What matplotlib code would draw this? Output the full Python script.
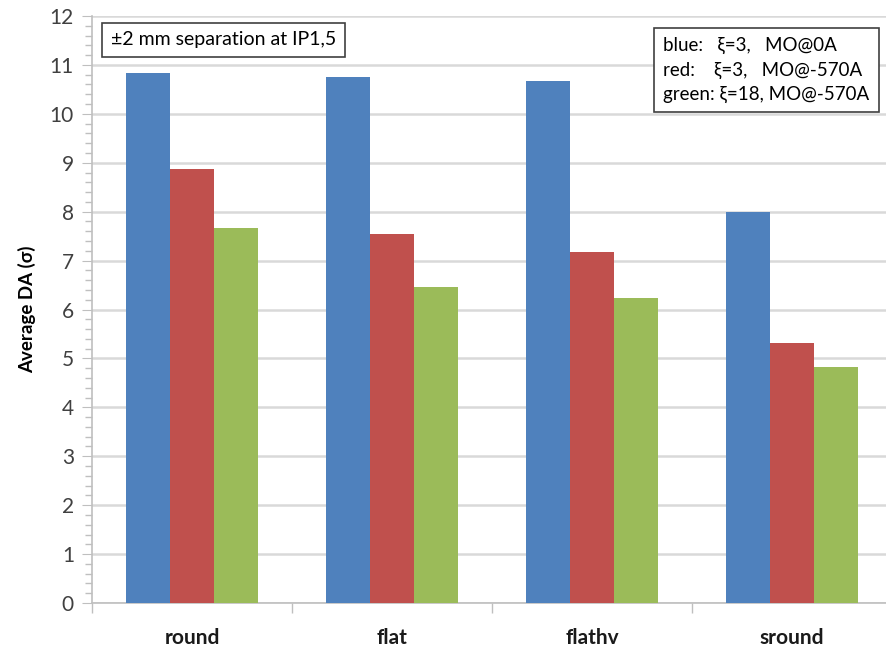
import numpy as np
import matplotlib
matplotlib.use("Agg")
from matplotlib import pyplot as plt
from matplotlib.ticker import MultipleLocator

plt.rcParams['font.family'] = ['Lato', 'DejaVu Sans']

categories = ["round", "flat", "flathv", "sround"]
blue_vals = [10.84, 10.75, 10.67, 8.00]
red_vals = [8.87, 7.54, 7.17, 5.31]
green_vals = [7.66, 6.46, 6.24, 4.83]
series_colors = ["#4F81BD", "#C0504D", "#9BBB59"]
legend_lines = ["blue:   \u03be=3,   MO@0A",
                "red:    \u03be=3,   MO@-570A",
                "green: \u03be=18, MO@-570A"]
note = "\u00b12 mm separation at IP1,5"

fig = plt.figure(figsize=(8.87, 6.49), dpi=100)
ax = fig.add_axes([92/887, 1-603/649, 800/887, (603-16)/649])

x = np.arange(len(categories))
w = 0.22
for i, vals in enumerate([blue_vals, red_vals, green_vals]):
    ax.bar(x + (i-1)*w, vals, width=w, color=series_colors[i], zorder=3)

ax.set_xlim(-0.5, 3.5)
ax.set_ylim(0, 12)
ax.yaxis.set_major_locator(MultipleLocator(1))
ax.yaxis.set_minor_locator(MultipleLocator(0.2))
ax.grid(axis='y', which='major', color='#D9D9D9', linewidth=1.8, zorder=0)

ax.set_xticks(x)
ax.set_xticklabels(categories, fontsize=15, fontweight='bold', color='#1a1a1a')
ax.set_xticks([-0.5, 0.5, 1.5, 2.5], minor=True)
ax.tick_params(axis='x', which='major', length=0, pad=18)
ax.tick_params(axis='x', which='minor', length=7, color='#BFBFBF', width=1)
ax.tick_params(axis='y', which='major', length=7, color='#BFBFBF', labelsize=15,
               labelcolor='#404040', pad=6)
ax.tick_params(axis='y', which='minor', length=5, color='#BFBFBF', width=1)

for s in ['top', 'right']:
    ax.spines[s].set_visible(False)
for s in ['left', 'bottom']:
    ax.spines[s].set_color('#BFBFBF')
    ax.spines[s].set_linewidth(1.2)

ax.set_ylabel("Average DA (\u03c3)", fontsize=13.5, fontweight='bold', labelpad=10)

fig.text(111/887, 1-40/649, note, fontsize=14, va='center', ha='left',
         bbox=dict(boxstyle='square,pad=0.45', fc='white', ec='#404040', lw=1.2))
fig.text(663/887, 1-70/649, "\n".join(legend_lines), fontsize=13.5, va='center', ha='left',
         linespacing=1.5,
         bbox=dict(boxstyle='square,pad=0.5', fc='white', ec='#404040', lw=1.2))

plt.savefig("out.png", dpi=100)
plt.close()
